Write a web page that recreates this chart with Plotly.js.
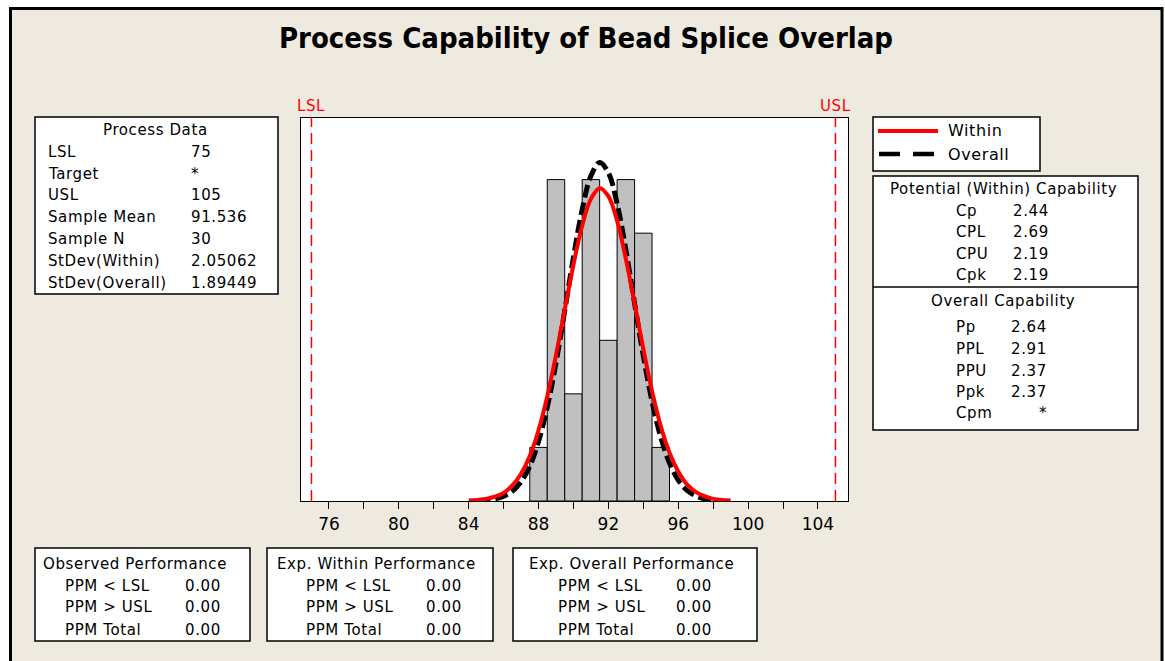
<!DOCTYPE html>
<html>
<head>
<meta charset="utf-8">
<script src="https://cdn.plot.ly/plotly-3.0.1.min.js"></script>
<style>
html,body{margin:0;padding:0;background:#fff;}
#chart{width:1165px;height:661px;}
.annotation-text{letter-spacing:0.6px;}
</style>
</head>
<body>
<div id="chart"></div>
<script>
// ---------- data ----------
const chartTitle = 'Process Capability of Bead Splice Overlap';
const binCenters = [88, 89, 90, 91, 92, 93, 94, 95];
const binCounts  = [1, 6, 2, 6, 3, 6, 5, 1];

const withinX = [84, 84.5, 85, 85.5, 86, 86.5, 87, 87.5, 88, 88.5, 89, 89.5, 90, 90.5, 91, 91.5, 92, 92.5, 93, 93.5, 94, 94.5, 95, 95.5, 96, 96.5, 97, 97.5, 98, 98.5, 99];
const withinY = [0.01, 0.02, 0.04, 0.08, 0.15, 0.29, 0.51, 0.84, 1.32, 1.95, 2.72, 3.57, 4.41, 5.14, 5.64, 5.84, 5.69, 5.23, 4.52, 3.69, 2.84, 2.05, 1.40, 0.90, 0.55, 0.31, 0.17, 0.09, 0.04, 0.02, 0.01];
const overallX = [84.5, 85, 85.5, 86, 86.5, 87, 87.5, 88, 88.5, 89, 89.5, 90, 90.5, 91, 91.5, 92, 92.5, 93, 93.5, 94, 94.5, 95, 95.5, 96, 96.5, 97, 97.5, 98, 98.5];
const overallY = [0.01, 0.02, 0.04, 0.09, 0.18, 0.36, 0.65, 1.11, 1.75, 2.58, 3.55, 4.55, 5.44, 6.07, 6.32, 6.13, 5.55, 4.69, 3.69, 2.71, 1.86, 1.19, 0.71, 0.39, 0.20, 0.10, 0.04, 0.02, 0.01];

const specValues = [75, 105];
const specLabels = ['LSL', 'USL'];
const xTickVals = [76, 80, 84, 88, 92, 96, 100, 104];
const seriesNames = ['Within', 'Overall'];

const processLabels = ['LSL', 'Target', 'USL', 'Sample Mean', 'Sample N', 'StDev(Within)', 'StDev(Overall)'];
const processValues = ['75', '*', '105', '91.536', '30', '2.05062', '1.89449'];

const potentialLabels = ['Cp', 'CPL', 'CPU', 'Cpk'];
const potentialValues = ['2.44', '2.69', '2.19', '2.19'];
const overallCapLabels = ['Pp', 'PPL', 'PPU', 'Ppk', 'Cpm'];
const overallCapValues = ['2.64', '2.91', '2.37', '2.37', '*'];

const perfTitles = ['Observed Performance', 'Exp. Within Performance', 'Exp. Overall Performance'];
const perfLabels = ['PPM < LSL', 'PPM > USL', 'PPM Total'];
const perfValues = [['0.00', '0.00', '0.00'], ['0.00', '0.00', '0.00'], ['0.00', '0.00', '0.00']];

// ---------- helpers (pixel -> paper) ----------
const W = 1165, H = 661;
const px = x => x / W;
const py = y => 1 - y / H;
const FONT = 'DejaVu Sans, Verdana, sans-serif';
const BG = '#EEEAE0';
const FS = 15;

const shapes = [];
const annotations = [];

function rect(x0, y0, x1, y1, opts) {
  shapes.push(Object.assign({type: 'rect', xref: 'paper', yref: 'paper', x0: px(x0), x1: px(x1), y0: py(y1), y1: py(y0),
    line: {color: 'black', width: 1.5}, fillcolor: 'white', layer: 'above'}, opts || {}));
}
function hline(x0, x1, y, color, width, dash) {
  shapes.push({type: 'line', xref: 'paper', yref: 'paper', x0: px(x0), x1: px(x1), y0: py(y), y1: py(y),
    line: {color: color, width: width, dash: dash || 'solid'}, layer: 'above'});
}
function text(t, x, y, anchor, size, color) {
  annotations.push({text: t, xref: 'paper', yref: 'paper', x: px(x), y: py(y), xanchor: anchor || 'left', yanchor: 'middle',
    showarrow: false, font: {family: FONT, size: size || FS, color: color || 'black'}});
}

// outer frame
rect(0, 0, 1165, 7, {fillcolor: 'white', line: {width: 0}});
rect(0, 0, 9, 661, {fillcolor: 'white', line: {width: 0}});
rect(1163, 0, 1165, 661, {fillcolor: 'white', line: {width: 0}});
hline(9, 1163, 8.5, 'black', 3);
shapes.push({type: 'line', xref: 'paper', yref: 'paper', x0: px(10.5), x1: px(10.5), y0: py(7), y1: py(661), line: {color: 'black', width: 3}, layer: 'above'});
shapes.push({type: 'line', xref: 'paper', yref: 'paper', x0: px(1162), x1: px(1162), y0: py(7), y1: py(661), line: {color: 'black', width: 3}, layer: 'above'});

// spec limit lines
specValues.forEach((v, i) => {
  shapes.push({type: 'line', xref: 'x', yref: 'paper', x0: v, x1: v, y0: py(501), y1: py(118),
    line: {color: '#FF0000', width: 1.5, dash: '11px,6px'}, layer: 'above'});
  annotations.push({text: specLabels[i], xref: 'x', yref: 'paper', x: v, y: py(106), xanchor: 'center', yanchor: 'middle',
    showarrow: false, font: {family: FONT, size: 15, color: '#FF0000'}});
});

// process data box
rect(35, 117, 278, 294);
text('Process Data', 155, 130, 'center');
const pdY = [152, 174, 195, 217, 239, 261, 283];
processLabels.forEach((l, i) => { text(l, 46, pdY[i]); text(processValues[i], 189, pdY[i]); });

// legend box
rect(873, 117, 1040, 171);
hline(878, 938, 131, '#FF0000', 4);
hline(879, 900, 154, 'black', 4.5);
hline(913, 934, 154, 'black', 4.5);
text(seriesNames[0], 946, 131, 'left', 16);
text(seriesNames[1], 946, 154, 'left', 16);

// capability box
rect(873, 176, 1138, 430);
hline(873, 1138, 287, 'black', 1.5);
text('Potential (Within) Capability', 1003, 189, 'center');
const potY = [211, 232, 254, 275];
potentialLabels.forEach((l, i) => { text(l, 954, potY[i]); text(potentialValues[i], 1051, potY[i], 'right'); });
text('Overall Capability', 1003, 301, 'center');
const ovY = [327, 349, 371, 392, 413];
overallCapLabels.forEach((l, i) => { text(l, 954, ovY[i]); text(overallCapValues[i], 1049, ovY[i], 'right'); });

// performance boxes
const perfBoxes = [[35, 250, 41, 63, 183], [267, 493, 275, 304, 424], [513, 757, 527, 556, 674]];
const perfY = [586, 607, 630];
perfBoxes.forEach((b, k) => {
  rect(b[0], 548, b[1], 641);
  text(perfTitles[k], b[2], 564);
  perfLabels.forEach((l, i) => { text(l, b[3], perfY[i]); text(perfValues[k][i], b[4], perfY[i]); });
});

// ---------- traces ----------
const traces = [
  {type: 'bar', x: binCenters, y: binCounts, width: 1, marker: {color: '#C0C0C0', line: {color: 'black', width: 1}}, showlegend: false, hoverinfo: 'x+y'},
  {type: 'scatter', mode: 'lines', x: overallX, y: overallY, name: seriesNames[1], line: {color: 'black', width: 5, dash: '13px,5px', shape: 'spline'}, showlegend: false},
  {type: 'scatter', mode: 'lines', x: withinX, y: withinY, name: seriesNames[0], line: {color: '#FF0000', width: 4, shape: 'spline'}, showlegend: false}
];

const layout = {
  width: W, height: H,
  margin: {l: 0, r: 0, t: 0, b: 0},
  paper_bgcolor: BG,
  plot_bgcolor: 'white',
  title: {text: '<b>' + chartTitle + '</b>', x: 586 / W, xanchor: 'center', y: py(38), yanchor: 'middle',
    font: {family: 'DejaVu Sans Condensed, Liberation Sans Narrow, DejaVu Sans, sans-serif', size: 29, color: 'black'}},
  showlegend: false,
  bargap: 0,
  xaxis: {
    domain: [px(301), px(848)],
    range: [74.4, 105.72],
    tickvals: xTickVals,
    ticktext: xTickVals.map(String),
    ticks: 'outside', ticklen: 7, tickwidth: 1, tickcolor: 'black',
    minor: {dtick: 2, tick0: 76, ticks: 'outside', ticklen: 7, tickwidth: 1, tickcolor: 'black'},
    showgrid: false, zeroline: false,
    showline: true, mirror: true, linecolor: 'black', linewidth: 1.2,
    tickfont: {family: FONT, size: 17, color: 'black'}
  },
  yaxis: {
    domain: [py(501), py(118)],
    range: [0, 7.15],
    showticklabels: false, ticks: '', showgrid: false, zeroline: false,
    showline: true, mirror: true, linecolor: 'black', linewidth: 1.2
  },
  shapes: shapes,
  annotations: annotations
};

Plotly.newPlot('chart', traces, layout, {displayModeBar: false, staticPlot: true});
</script>
</body>
</html>
